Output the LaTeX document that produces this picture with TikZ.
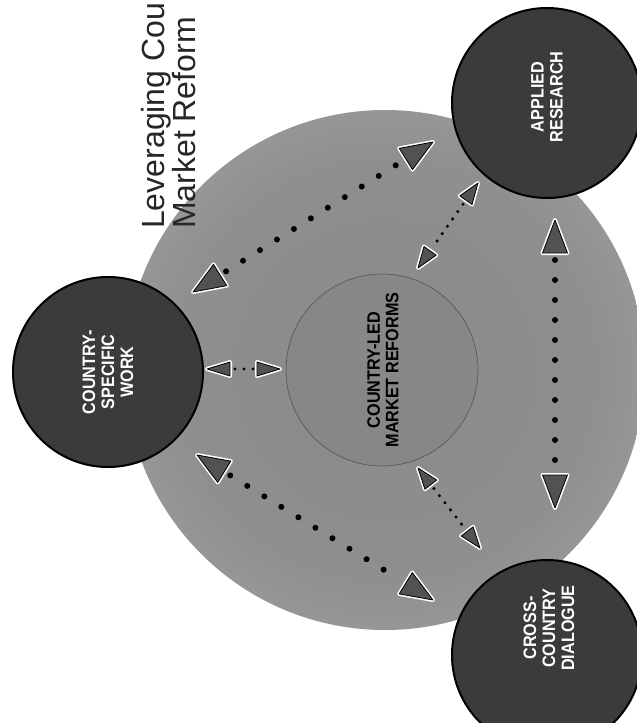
\documentclass[tikz,border=0pt]{standalone}
\usepackage{fontspec}
\setmainfont{Liberation Sans}
\newfontfamily\labfont[FakeStretch=0.9]{Liberation Sans}
\usetikzlibrary{calc}
\pgfdeclareradialshading{cloudshade}{\pgfpoint{0bp}{0bp}}{color(0bp)=(black!46); color(20bp)=(black!44); color(32bp)=(black!37); color(41bp)=(black!24); color(47bp)=(black!8); color(50bp)=(white)}
\newcommand\mytri[4]{%
  \coordinate (trib) at ($(#1)!#3!(#2)$);
  \filldraw[trihalo] (#1) -- ($(trib)!#4!90:(#1)$) -- ($(trib)!#4!-90:(#1)$) -- cycle;
  \filldraw[tristyle] (#1) -- ($(trib)!#4!90:(#1)$) -- ($(trib)!#4!-90:(#1)$) -- cycle;
}
\begin{document}
\begin{tikzpicture}[x=1pt,y=-1pt,
  bigcirc/.style={circle, draw=black, line width=2pt, fill=black!77, minimum size=190pt, inner sep=0pt},
  centercirc/.style={circle, draw=black!65, line width=0.7pt, fill=black!47, minimum size=192pt, inner sep=0pt},
  lab/.style={text=white, font=\labfont\bfseries\fontsize{18}{19}\selectfont, align=center, rotate=90, inner sep=0pt},
  centerlab/.style={text=black, font=\labfont\bfseries\fontsize{18}{18.5}\selectfont, align=center, rotate=90, inner sep=0pt},
  titlestyle/.style={rotate=90, font=\fontsize{32}{36}\selectfont, inner sep=0pt, text=black!85},
  bigdots/.style={draw=black, line width=6pt, line cap=round, dash pattern=on 0pt off 20pt},
  smalldots/.style={draw=black, line width=3.4pt, line cap=round, dash pattern=on 0pt off 9pt},
  tristyle/.style={fill=black!68, draw=black, line width=0.8pt, line join=round},
  trihalo/.style={fill=white, draw=white, line width=4pt, line join=round}]
\useasboundingbox (0,0) rectangle (637,723);
\clip (0,0) rectangle (637,723);
\fill[white] (0,0) rectangle (637,723);
% background cloud
\shade[shading=cloudshade] (385,370) circle (260pt);
% centre circle
\node[centercirc] (cl) at (382,370) {};
\node[centerlab] (cllab) at (383,370) {COUNTRY-LED\\MARKET REFORMS};
% outer circles
\node[bigcirc] (ar) at (547,103) {};
\node[lab] (arlab) at (547,97) {APPLIED\\RESEARCH};
\node[bigcirc] (cc) at (547,655) {};
\node[lab] (cclab) at (549,628) {CROSS-\\COUNTRY\\DIALOGUE};
\node[bigcirc] (cs) at (108,372) {};
\node[lab] (cslab) at (108,372) {COUNTRY-\\SPECIFIC\\WORK};
% title
\node[titlestyle, anchor=base west] (t1) at (164,229) {Leveraging Cou};
\node[titlestyle, anchor=base west] (t2) at (195,229) {Market Reform};
% arrow end points
\coordinate (a1s) at (193,292); \coordinate (a1e) at (433,142);
\coordinate (a2s) at (197,455); \coordinate (a2e) at (433,600);
\coordinate (a3s) at (555,220); \coordinate (a3e) at (555,508);
\coordinate (a4s) at (207,369); \coordinate (a4e) at (280,369);
\coordinate (a5s) at (478,183); \coordinate (a5e) at (418,268);
\coordinate (a6s) at (418,468); \coordinate (a6e) at (480,548);
% big dotted connectors
\draw[bigdots, shorten <=39pt, shorten >=39pt] (a1s) -- (a1e);
\draw[bigdots, shorten <=39pt, shorten >=39pt] (a2s) -- (a2e);
\draw[bigdots, shorten <=40pt, shorten >=38pt] (a3s) -- (a3e);
% small dotted connectors
\draw[smalldots, shorten <=28pt, shorten >=26pt] (a4s) -- (a4e);
\draw[smalldots, shorten <=26pt, shorten >=26pt] (a5s) -- (a5e);
\draw[smalldots, shorten <=26pt, shorten >=26pt] (a6s) -- (a6e);
% arrowheads
\mytri{a1s}{a1e}{32pt}{12.5pt}
\mytri{a1e}{a1s}{32pt}{12.5pt}
\mytri{a2s}{a2e}{32pt}{12.5pt}
\mytri{a2e}{a2s}{32pt}{12.5pt}
\mytri{a3s}{a3e}{33pt}{12.5pt}
\mytri{a3e}{a3s}{33pt}{12.5pt}
\mytri{a4s}{a4e}{23pt}{7pt}
\mytri{a4e}{a4s}{23pt}{7pt}
\mytri{a5s}{a5e}{21pt}{7.5pt}
\mytri{a5e}{a5s}{21pt}{7.5pt}
\mytri{a6s}{a6e}{21pt}{7.5pt}
\mytri{a6e}{a6s}{21pt}{7.5pt}
\end{tikzpicture}
\end{document}
